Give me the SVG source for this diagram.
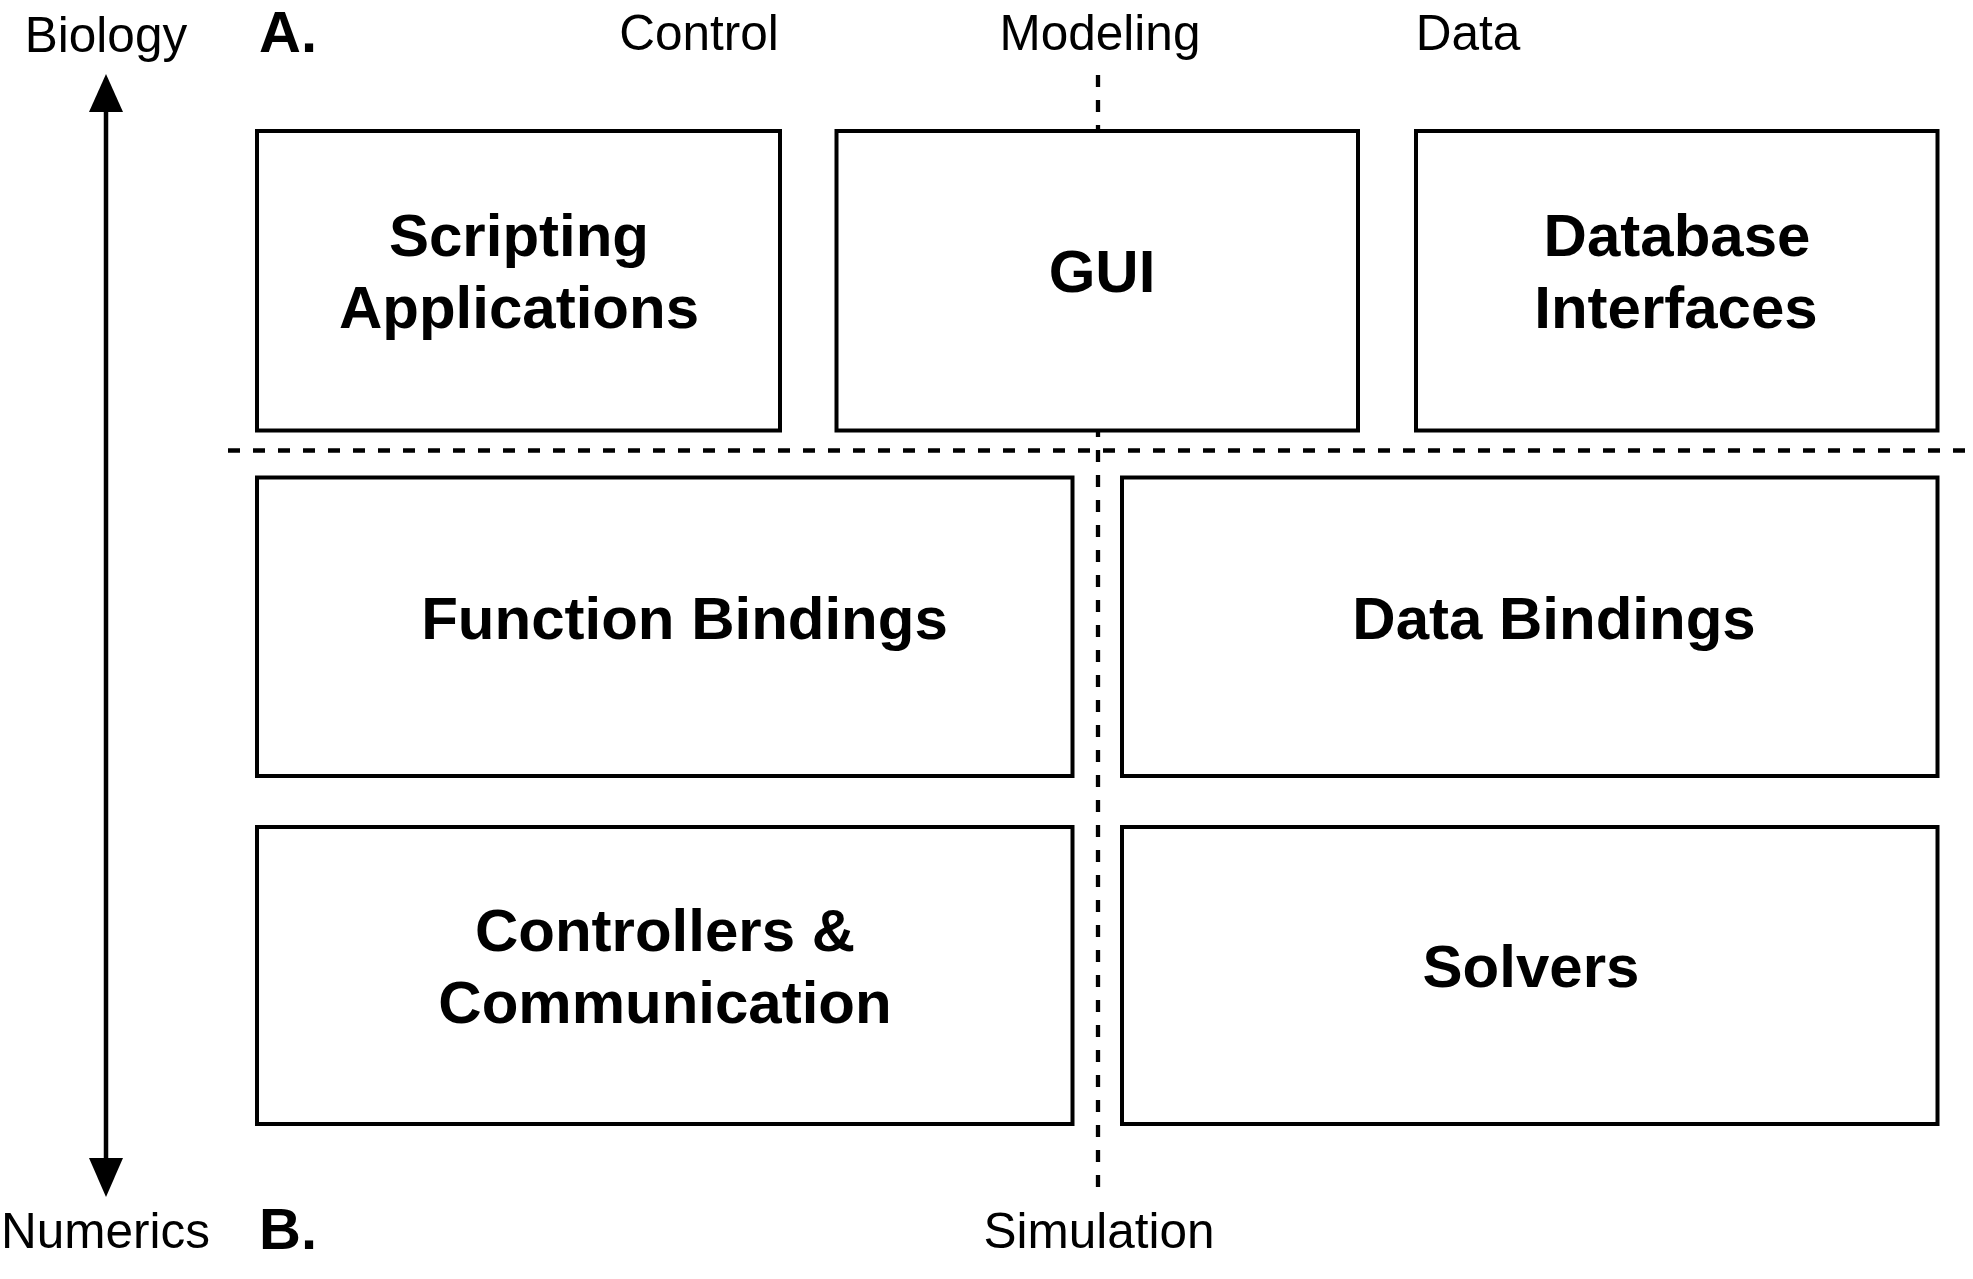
<svg xmlns="http://www.w3.org/2000/svg" width="1973" height="1279" viewBox="0 0 1973 1279">
<style>
.box{fill:#fff;stroke:#000;stroke-width:4}
.dash{fill:none;stroke:#000;stroke-width:4.3;stroke-dasharray:12 13}
.lbl{font-family:"Liberation Sans",Arial,Helvetica,sans-serif;font-size:49.5px;fill:#000}
.big{font-family:"Liberation Sans",Arial,Helvetica,sans-serif;font-size:60px;font-weight:bold;fill:#000;text-anchor:middle}
.let{font-family:"Liberation Sans",Arial,Helvetica,sans-serif;font-size:58px;font-weight:bold;fill:#000}
</style>
<rect width="1973" height="1279" fill="#fff"/>
<g id="connectors">
<line class="dash" x1="1098" y1="75" x2="1098" y2="1187"/>
<line class="dash" x1="228" y1="450.5" x2="1966" y2="450.5"/>
<line x1="106" y1="108" x2="106" y2="1162" stroke="#000" stroke-width="4.5"/>
<polygon points="106,74 89,112 123,112" fill="#000"/>
<polygon points="106,1197 89,1158 123,1158" fill="#000"/>
</g>
<g id="labels">
<text class="lbl" x="106" y="52" text-anchor="middle">Biology</text>
<text class="lbl" x="105.5" y="1248" text-anchor="middle">Numerics</text>
<text class="let" x="259" y="52">A.</text>
<text class="let" x="259" y="1249">B.</text>
<text class="lbl" x="699" y="50" text-anchor="middle">Control</text>
<text class="lbl" x="1100" y="50" text-anchor="middle">Modeling</text>
<text class="lbl" x="1468" y="50" text-anchor="middle">Data</text>
<text class="lbl" x="1099" y="1248" text-anchor="middle">Simulation</text>
</g>
<g id="scripting">
<rect class="box" x="257" y="131" width="523" height="299.5"/>
<text class="big" x="519" y="256">Scripting</text>
<text class="big" x="519" y="328">Applications</text>
</g>
<g id="gui">
<rect class="box" x="836.5" y="131" width="521.5" height="299.5"/>
<text class="big" x="1102" y="292">GUI</text>
</g>
<g id="database">
<rect class="box" x="1416" y="131" width="521.5" height="299.5"/>
<text class="big" x="1677" y="256">Database</text>
<text class="big" x="1676" y="328">Interfaces</text>
</g>
<g id="function-bindings">
<rect class="box" x="257" y="477.5" width="815.5" height="298.5"/>
<text class="big" x="684.5" y="638.5">Function Bindings</text>
</g>
<g id="data-bindings">
<rect class="box" x="1122" y="477.5" width="815.5" height="298.5"/>
<text class="big" x="1554" y="638.5">Data Bindings</text>
</g>
<g id="controllers">
<rect class="box" x="257" y="827" width="815.5" height="297"/>
<text class="big" x="665" y="951">Controllers &amp;</text>
<text class="big" x="665" y="1023">Communication</text>
</g>
<g id="solvers">
<rect class="box" x="1122" y="827" width="815.5" height="297"/>
<text class="big" x="1531" y="986.5">Solvers</text>
</g>
</svg>
